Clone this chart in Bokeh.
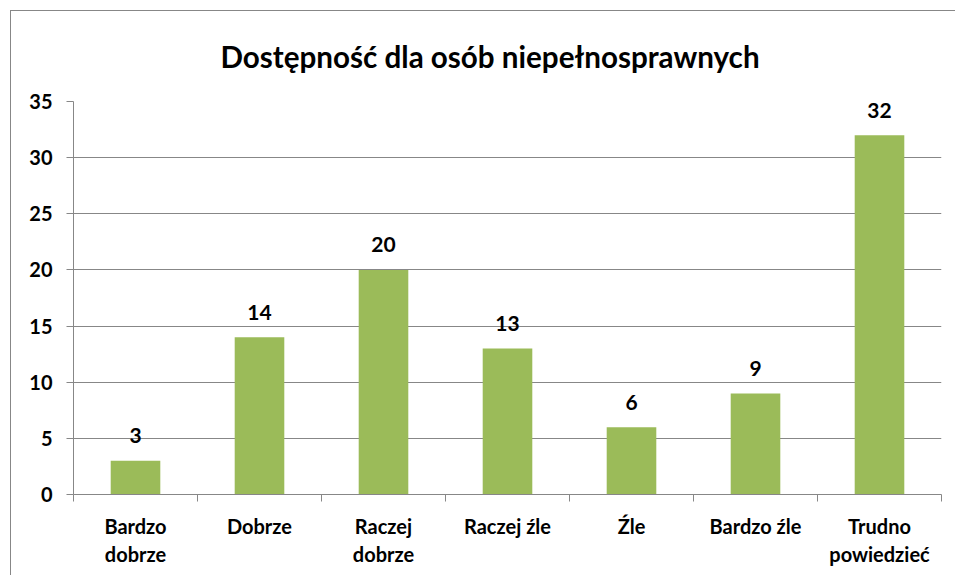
from bokeh.plotting import figure
from bokeh.models import Range1d, FixedTicker, ColumnDataSource
from bokeh.core.properties import value
from bokeh.embed import file_html
from bokeh.resources import INLINE

categories = ["Bardzo\ndobrze", "Dobrze", "Raczej\ndobrze", "Raczej źle", "Źle", "Bardzo źle", "Trudno\npowiedzieć"]
counts = [3, 14, 20, 13, 6, 9, 32]
y_ticks = [0, 5, 10, 15, 20, 25, 30, 35]
title_text = "Dostępność dla osób niepełnosprawnych"

FONT = "Lato"
GRAY = "#878787"
GREEN = "#9BBB59"

xs = [i + 0.5 for i in range(len(categories))]
src = ColumnDataSource(dict(x=xs, top=counts, label=[str(c) for c in counts]))

p = figure(
    frame_width=868, frame_height=393,
    min_border_left=62, min_border_right=14, min_border_top=90, min_border_bottom=81,
    x_range=Range1d(0, len(categories)), y_range=Range1d(0, 35),
    output_backend="svg", toolbar_location=None,
    title=title_text,
    styles={"margin-left": "10px", "margin-top": "10px",
            "border-left": f"1px solid {GRAY}", "border-top": f"1px solid {GRAY}"},
)
p.outline_line_color = None
p.background_fill_color = "white"
p.border_fill_color = "white"

p.title.text_font = FONT
p.title.text_font_size = "29.6px"
p.title.text_font_style = "bold"
p.title.text_color = "black"
p.title.align = "left"
p.title.offset = 147
p.title.vertical_align = "top"
p.title.standoff = 51

p.vbar(x="x", top="top", width=0.4, source=src, fill_color=GREEN, line_color=None)
p.text(x="x", y="top", text="label", source=src, y_offset=-25,
       text_align="center", text_baseline="alphabetic",
       text_font=value(FONT), text_font_size="21px", text_font_style="bold", text_color="black")

p.xgrid.grid_line_color = None
p.ygrid.ticker = FixedTicker(ticks=y_ticks)
p.ygrid.grid_line_color = GRAY
p.ygrid.grid_line_width = 1

ya = p.yaxis[0]
ya.ticker = FixedTicker(ticks=y_ticks)
ya.axis_line_color = GRAY
ya.major_tick_line_color = GRAY
ya.major_tick_out = 7
ya.major_tick_in = 0
ya.minor_tick_line_color = None
ya.major_label_standoff = 14
ya.major_label_text_font = FONT
ya.major_label_text_font_size = "20px"
ya.major_label_text_font_style = "bold"
ya.major_label_text_color = "black"

xa = p.xaxis[0]
xa.ticker = FixedTicker(ticks=xs, minor_ticks=list(range(len(categories) + 1)))
xa.major_label_overrides = {x: c for x, c in zip(xs, categories)}
xa.axis_line_color = GRAY
xa.major_tick_line_color = None
xa.major_tick_out = 0
xa.major_tick_in = 0
xa.minor_tick_line_color = GRAY
xa.minor_tick_out = 7
xa.minor_tick_in = 0
xa.major_label_standoff = 12
xa.major_label_text_font = FONT
xa.major_label_text_font_size = "20px"
xa.major_label_text_font_style = "bold"
xa.major_label_text_color = "black"

open("out.html", "w").write(file_html(p, INLINE))
